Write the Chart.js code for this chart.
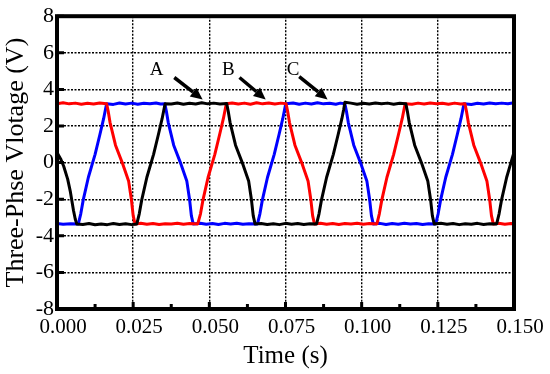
<!DOCTYPE html>
<html>
<head>
<meta charset="utf-8">
<script src="https://cdn.jsdelivr.net/npm/chart.js@4.4.1/dist/chart.umd.min.js"></script>
<style>
  html, body { margin: 0; padding: 0; background: #fff; }
  #wrap { width: 550px; height: 374px; }
</style>
</head>
<body>
<div id="wrap"><canvas id="chart" width="550" height="374"></canvas></div>
<script>
// axis ticks
const xTicks = [0, 0.025, 0.05, 0.075, 0.1, 0.125, 0.15];
const yTicks = [-8, -6, -4, -2, 0, 2, 4, 6, 8];

// phase A (black) : [time s, voltage V]
const phaseA = [
  [0, 0.55], [0.0012, 0.2], [0.0022, -0.2], [0.0035, -0.9], [0.0044, -1.6], [0.0054, -2.6], [0.006, -3.1], [0.0065, -3.35],
  [0.0085, -3.38], [0.0105, -3.33], [0.0125, -3.4], [0.0145, -3.35], [0.0165, -3.39], [0.0185, -3.33], [0.0205, -3.38], [0.0225, -3.34], [0.0245, -3.39], [0.0262, -3.35],
  [0.027, -2.8], [0.0278, -2.05], [0.0295, -0.8], [0.0317, 0.45], [0.0333, 1.55], [0.0345, 2.4], [0.0351, 2.9], [0.0355, 3.22],
  [0.0375, 3.2], [0.0395, 3.26], [0.0415, 3.19], [0.0435, 3.24], [0.0455, 3.2], [0.0475, 3.27], [0.0495, 3.21], [0.0515, 3.25], [0.0535, 3.2], [0.0557, 3.23],
  [0.0562, 2.8], [0.0568, 2.2], [0.0586, 0.95], [0.0608, 0.0], [0.0629, -1.0], [0.0638, -2.0], [0.0644, -2.9], [0.065, -3.35],
  [0.067, -3.33], [0.069, -3.38], [0.071, -3.34], [0.073, -3.39], [0.075, -3.32], [0.077, -3.37], [0.079, -3.33], [0.081, -3.38], [0.083, -3.34], [0.0852, -3.35],
  [0.086, -2.8], [0.0868, -2.05], [0.0885, -0.8], [0.0907, 0.45], [0.0923, 1.55], [0.0935, 2.4], [0.0941, 2.9], [0.0945, 3.3],
  [0.0965, 3.25], [0.0985, 3.19], [0.1005, 3.24], [0.1025, 3.2], [0.1045, 3.26], [0.1065, 3.21], [0.1085, 3.25], [0.1105, 3.19], [0.1125, 3.24], [0.1145, 3.22],
  [0.115, 2.8], [0.1156, 2.2], [0.1174, 0.95], [0.1196, 0.0], [0.1217, -1.0], [0.1226, -2.0], [0.1232, -2.9], [0.1238, -3.35],
  [0.126, -3.32], [0.128, -3.37], [0.13, -3.33], [0.132, -3.39], [0.134, -3.34], [0.136, -3.37], [0.138, -3.32], [0.14, -3.38], [0.142, -3.34], [0.1443, -3.35],
  [0.1451, -2.8], [0.1459, -2.05], [0.1476, -0.8], [0.1498, 0.45], [0.15, 0.55]
];

// phase B (red)
const phaseB = [
  [0, 3.22], [0.002, 3.27], [0.004, 3.21], [0.006, 3.25], [0.008, 3.19], [0.01, 3.24], [0.012, 3.2], [0.014, 3.26], [0.0163, 3.22],
  [0.0168, 2.8], [0.0174, 2.2], [0.0192, 0.95], [0.0214, 0.0], [0.0235, -1.0], [0.0244, -2.0], [0.025, -2.9], [0.0256, -3.35],
  [0.0275, -3.32], [0.0295, -3.37], [0.0315, -3.33], [0.0335, -3.38], [0.0355, -3.34], [0.0375, -3.36], [0.0395, -3.31], [0.0415, -3.37], [0.0435, -3.33], [0.0462, -3.35],
  [0.0471, -2.8], [0.0479, -2.05], [0.0496, -0.8], [0.0518, 0.45], [0.0534, 1.55], [0.0546, 2.4], [0.0552, 2.9], [0.0556, 3.22],
  [0.0575, 3.26], [0.0595, 3.2], [0.0615, 3.25], [0.0635, 3.19], [0.0655, 3.27], [0.0675, 3.21], [0.0695, 3.26], [0.0715, 3.2], [0.0735, 3.25], [0.0752, 3.22],
  [0.0757, 2.8], [0.0763, 2.2], [0.0781, 0.95], [0.0803, 0.0], [0.0824, -1.0], [0.0833, -2.0], [0.0839, -2.9], [0.0845, -3.35],
  [0.0865, -3.32], [0.0885, -3.37], [0.0905, -3.33], [0.0925, -3.38], [0.0945, -3.33], [0.0965, -3.36], [0.0985, -3.31], [0.1005, -3.37], [0.1025, -3.33], [0.105, -3.35],
  [0.1058, -2.8], [0.1066, -2.05], [0.1083, -0.8], [0.1105, 0.45], [0.1121, 1.55], [0.1133, 2.4], [0.1139, 2.9], [0.1143, 3.22],
  [0.1165, 3.19], [0.1185, 3.25], [0.1205, 3.2], [0.1225, 3.26], [0.1245, 3.21], [0.1265, 3.24], [0.1285, 3.19], [0.1305, 3.25], [0.1325, 3.2], [0.1339, 3.22],
  [0.1344, 2.8], [0.135, 2.2], [0.1368, 0.95], [0.139, 0.0], [0.1411, -1.0], [0.142, -2.0], [0.1426, -2.9], [0.1432, -3.35],
  [0.145, -3.32], [0.147, -3.37], [0.149, -3.33], [0.15, -3.36]
];

// phase C (blue)
const phaseC = [
  [0, -3.33], [0.002, -3.37], [0.0045, -3.34], [0.007, -3.35],
  [0.0078, -2.8], [0.0086, -2.05], [0.0103, -0.8], [0.0125, 0.45], [0.0141, 1.55], [0.0153, 2.4], [0.0159, 2.9], [0.0163, 3.22],
  [0.0185, 3.18], [0.0205, 3.26], [0.0225, 3.2], [0.0245, 3.25], [0.0265, 3.19], [0.0285, 3.24], [0.0305, 3.21], [0.0325, 3.26], [0.034, 3.2], [0.0354, 3.22],
  [0.0359, 2.8], [0.0365, 2.2], [0.0383, 0.95], [0.0405, 0.0], [0.0426, -1.0], [0.0435, -2.0], [0.0441, -2.9], [0.0447, -3.35],
  [0.047, -3.31], [0.049, -3.37], [0.051, -3.33], [0.053, -3.38], [0.055, -3.32], [0.057, -3.36], [0.059, -3.31], [0.061, -3.37], [0.063, -3.34], [0.0658, -3.35],
  [0.0666, -2.8], [0.0674, -2.05], [0.0691, -0.8], [0.0713, 0.45], [0.0729, 1.55], [0.0741, 2.4], [0.0747, 2.9], [0.0751, 3.22],
  [0.0775, 3.26], [0.0795, 3.19], [0.0815, 3.25], [0.0835, 3.2], [0.0855, 3.27], [0.0875, 3.21], [0.0895, 3.24], [0.0915, 3.19], [0.093, 3.25], [0.0945, 3.22],
  [0.095, 2.8], [0.0956, 2.2], [0.0974, 0.95], [0.0996, 0.0], [0.1017, -1.0], [0.1026, -2.0], [0.1032, -2.9], [0.1038, -3.35],
  [0.106, -3.32], [0.108, -3.38], [0.11, -3.33], [0.112, -3.37], [0.114, -3.31], [0.116, -3.36], [0.118, -3.33], [0.12, -3.38], [0.122, -3.34], [0.1243, -3.35],
  [0.1251, -2.8], [0.1259, -2.05], [0.1276, -0.8], [0.1298, 0.45], [0.1314, 1.55], [0.1326, 2.4], [0.1332, 2.9], [0.1336, 3.22],
  [0.136, 3.18], [0.138, 3.24], [0.14, 3.2], [0.142, 3.26], [0.144, 3.21], [0.146, 3.25], [0.148, 3.22], [0.15, 3.27]
];

// labels and arrows: text position, arrow start, arrow end (data units)
const labelNames = ["A", "B", "C"];
const labelPos = [[0.0327, 5.05], [0.0562, 5.05], [0.0775, 5.05]];
const arrowFrom = [[0.0385, 4.65], [0.0599, 4.65], [0.0795, 4.7]];
const arrowTo = [[0.0478, 3.45], [0.0685, 3.45], [0.0888, 3.45]];

const FONT = "'Liberation Serif', 'DejaVu Serif', serif";

const toXY = (arr) => arr.map((p) => ({ x: p[0], y: p[1] }));

const framePlugin = {
    id: "frame",
    afterDraw(chart) {
        const ctx = chart.ctx;
        const a = chart.chartArea;
        const xs = chart.scales.x;
        const ys = chart.scales.y;
        ctx.save();
        ctx.strokeStyle = "#000";
        ctx.fillStyle = "#000";

        // inward ticks
        ctx.lineWidth = 3;
        ctx.beginPath();
        ys.ticks.forEach((t) => {
            const py = ys.getPixelForValue(t.value);
            ctx.moveTo(a.left, py);
            ctx.lineTo(a.left + 7, py);
        });
        xs.ticks.forEach((t, i) => {
            const px = xs.getPixelForValue(t.value);
            ctx.moveTo(px, a.bottom);
            ctx.lineTo(px, a.bottom - 7);
            if (i < xs.ticks.length - 1) {
                const mid = xs.getPixelForValue((t.value + xs.ticks[i + 1].value) / 2);
                ctx.moveTo(mid, a.bottom);
                ctx.lineTo(mid, a.bottom - 5);
            }
        });
        ctx.stroke();

        // frame
        ctx.lineWidth = 4;
        ctx.strokeRect(a.left, a.top, a.right - a.left, a.bottom - a.top);

        // annotations
        ctx.font = "19px " + FONT;
        ctx.textAlign = "center";
        ctx.textBaseline = "middle";
        labelNames.forEach((name, i) => {
            ctx.fillText(name, xs.getPixelForValue(labelPos[i][0]), ys.getPixelForValue(labelPos[i][1]));
            const x1 = xs.getPixelForValue(arrowFrom[i][0]);
            const y1 = ys.getPixelForValue(arrowFrom[i][1]);
            const x2 = xs.getPixelForValue(arrowTo[i][0]);
            const y2 = ys.getPixelForValue(arrowTo[i][1]);
            const ang = Math.atan2(y2 - y1, x2 - x1);
            const head = 12;
            const bx = x2 - head * Math.cos(ang);
            const by = y2 - head * Math.sin(ang);
            ctx.lineWidth = 3.5;
            ctx.beginPath();
            ctx.moveTo(x1, y1);
            ctx.lineTo(bx, by);
            ctx.stroke();
            ctx.beginPath();
            ctx.moveTo(x2, y2);
            ctx.lineTo(bx + 5.5 * Math.sin(ang), by - 5.5 * Math.cos(ang));
            ctx.lineTo(bx - 5.5 * Math.sin(ang), by + 5.5 * Math.cos(ang));
            ctx.closePath();
            ctx.fill();
        });
        ctx.restore();
    },
};

const lineSet = (label, arr, color) => ({
    label: label,
    data: toXY(arr),
    showLine: true,
    borderColor: color,
    backgroundColor: color,
    borderWidth: 3,
    pointRadius: 0,
    tension: 0,
    borderJoinStyle: "round",
});

new Chart(document.getElementById("chart").getContext("2d"), {
    type: "scatter",
    data: {
        datasets: [
            lineSet("A", phaseA, "#000000"),
            lineSet("B", phaseB, "#ff0000"),
            lineSet("C", phaseC, "#0000ff"),
        ],
    },
    options: {
        responsive: false,
        animation: false,
        layout: { padding: { top: 12, right: 36, bottom: 0, left: 0 } },
        plugins: { legend: { display: false }, tooltip: { enabled: false } },
        scales: {
            x: {
                type: "linear",
                min: 0,
                max: 0.15,
                afterBuildTicks: (s) => { s.ticks = xTicks.map((v) => ({ value: v })); },
                afterFit: (s) => { s.height = 65; },
                ticks: {
                    color: "#000",
                    padding: 6,
                    labelOffset: 6,
                    maxRotation: 0,
                    font: { family: FONT, size: 21 },
                    callback: (v) => Number(v).toFixed(3),
                },
                grid: { color: "#000", lineWidth: 1.4, drawTicks: false },
                border: { display: false, dash: [2, 1.5] },
                title: {
                    display: true,
                    text: "Time (s)",
                    color: "#000",
                    font: { family: FONT, size: 25 },
                    padding: { top: 0, bottom: 3 },
                },
            },
            y: {
                min: -8,
                max: 8,
                afterBuildTicks: (s) => { s.ticks = yTicks.map((v) => ({ value: v })); },
                afterFit: (s) => { s.width = 57; },
                ticks: {
                    color: "#000",
                    padding: 3,
                    font: { family: FONT, size: 22 },
                },
                grid: { color: "#000", lineWidth: 1.4, drawTicks: false },
                border: { display: false, dash: [2, 1.5] },
                title: {
                    display: true,
                    text: "Three-Phse Vlotage (V)",
                    color: "#000",
                    font: { family: FONT, size: 26 },
                    padding: { top: 1, bottom: 0 },
                },
            },
        },
    },
    plugins: [framePlugin],
});
</script>
</body>
</html>
